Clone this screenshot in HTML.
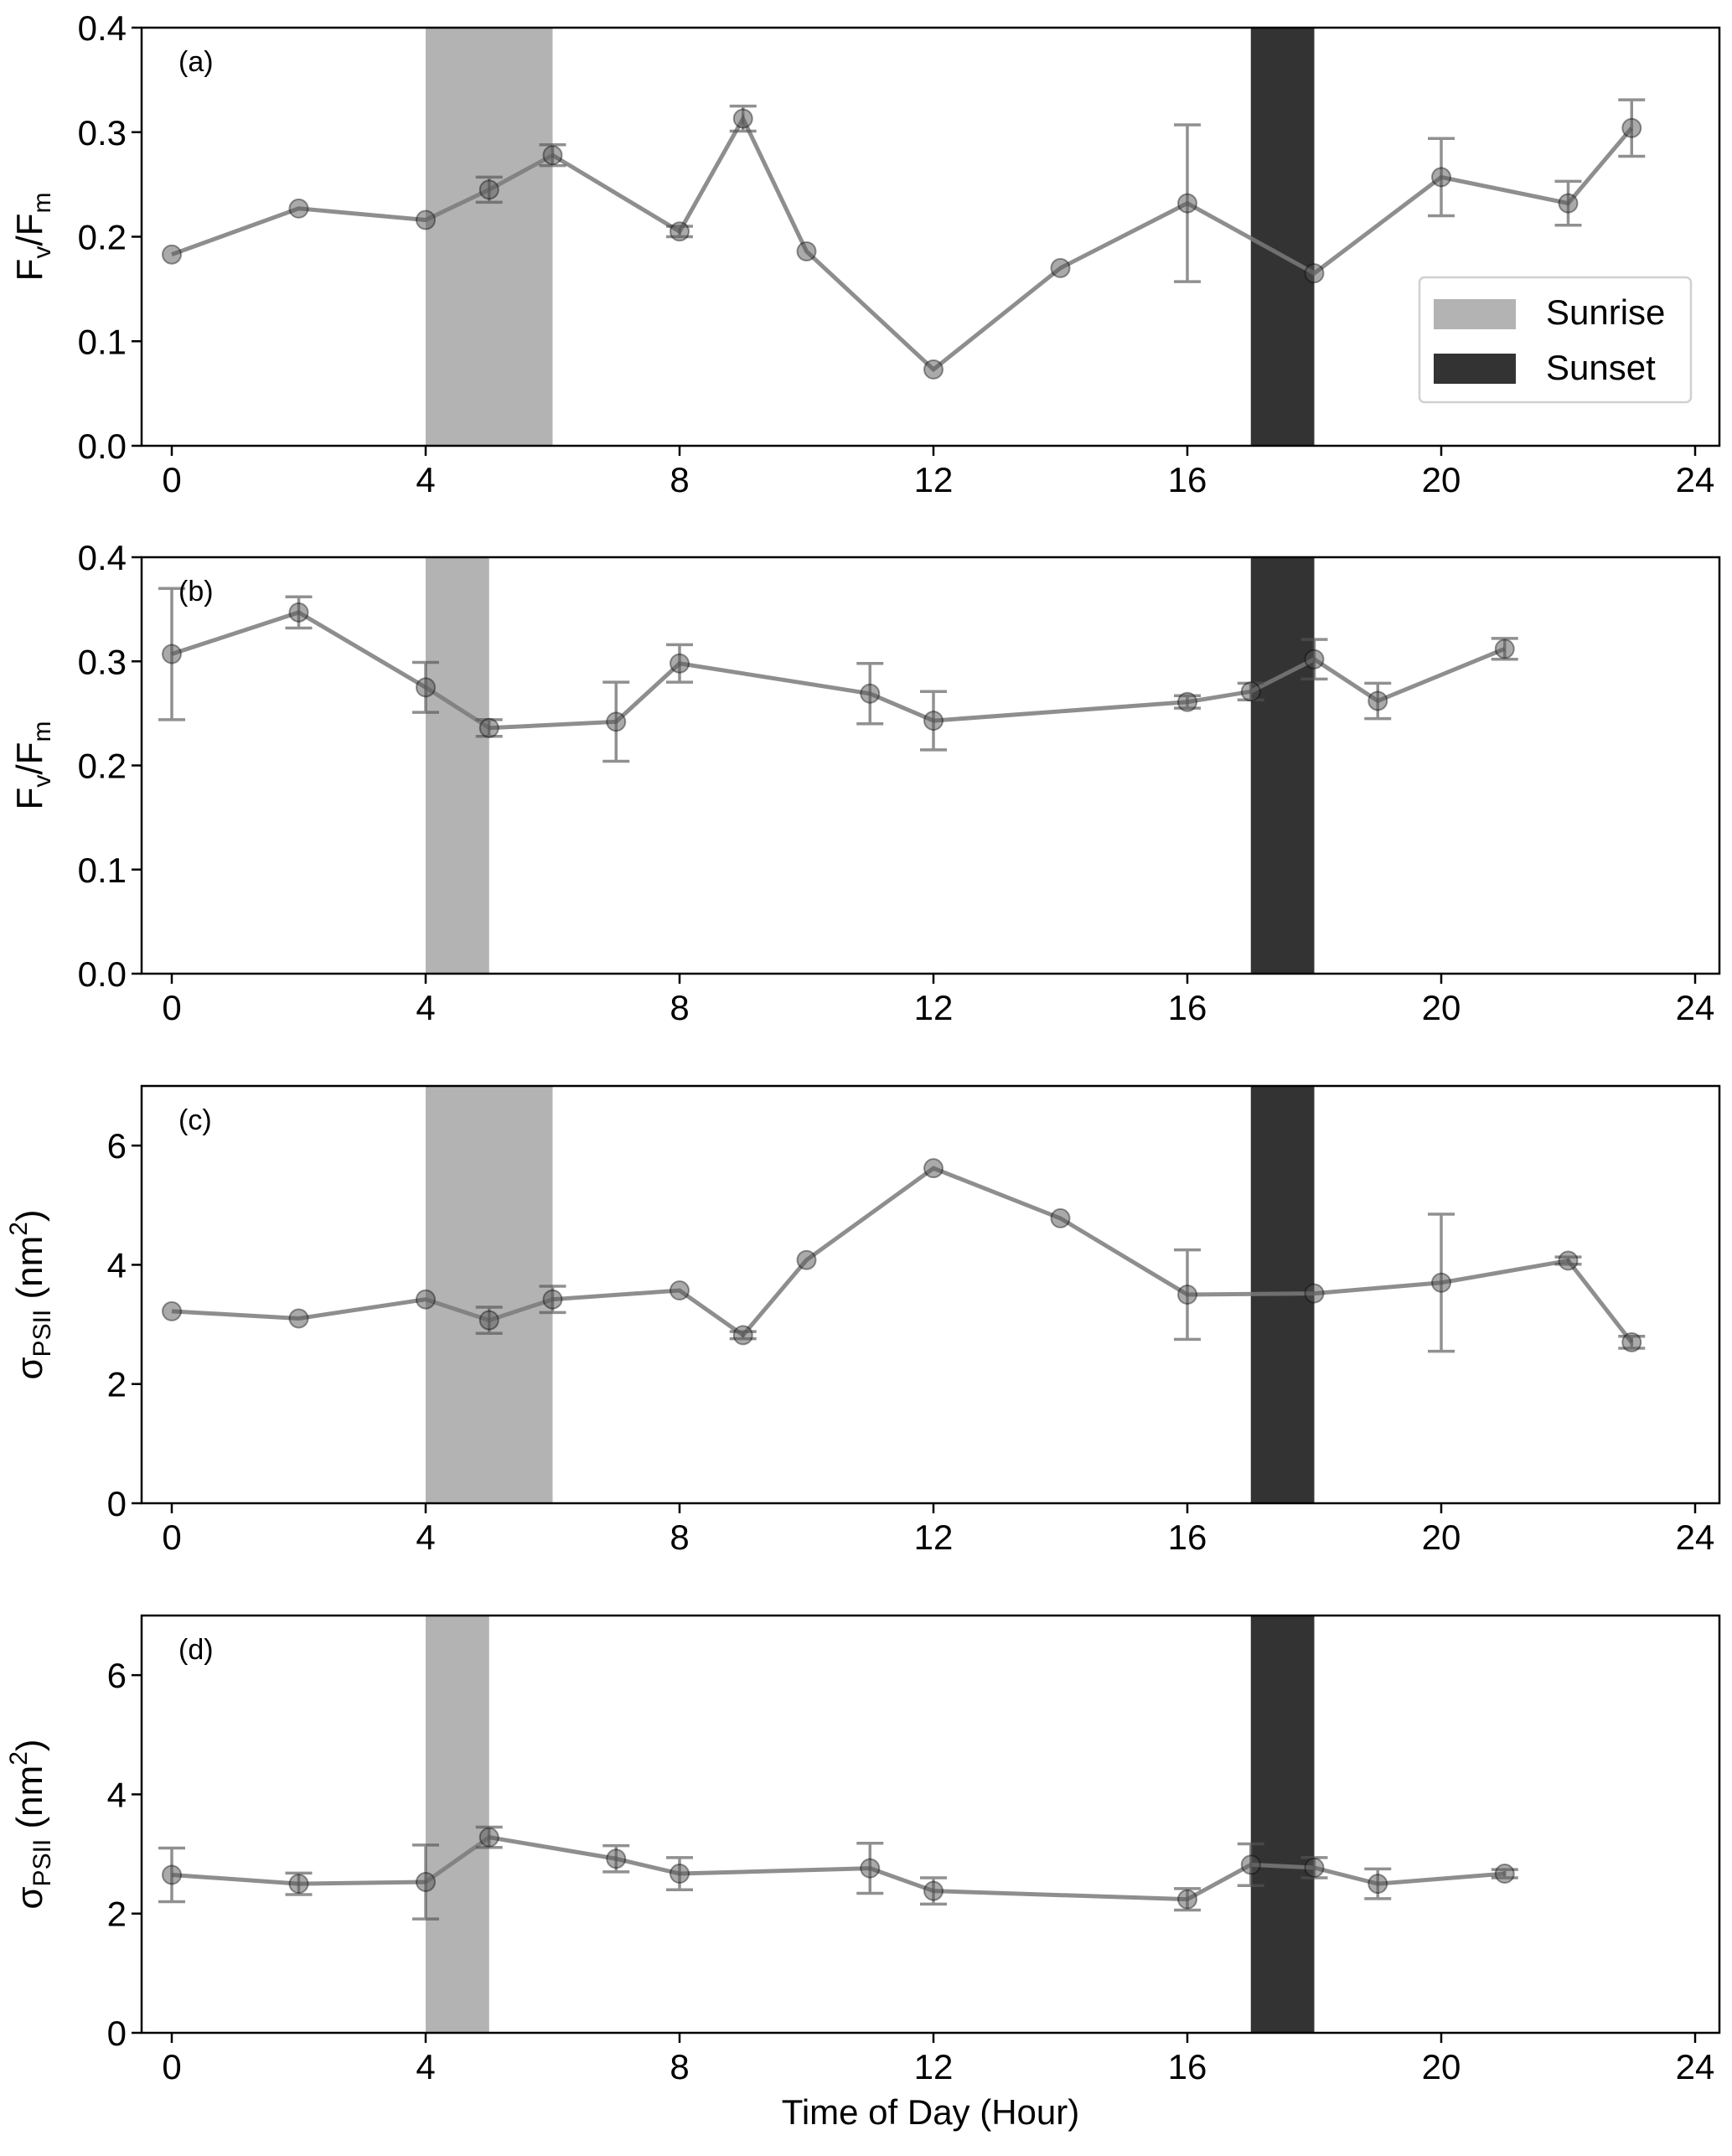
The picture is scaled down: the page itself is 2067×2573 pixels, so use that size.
<!DOCTYPE html>
<html><head><meta charset="utf-8"><style>
body{margin:0;background:#fff}
text{font-family:"Liberation Sans",sans-serif}
</style></head><body>
<svg id="c" width="2067" height="2568" xmlns="http://www.w3.org/2000/svg"></svg>
<script>
const xsA=[0,2,4,5,6,8,9,10,12,14,16,18,20,22,23];
const ysA=[0.183,0.227,0.216,0.245,0.278,0.205,0.313,0.186,0.073,0.170,0.232,0.165,0.257,0.232,0.304];
const errA=[0,0,0,0.012,0.010,0.005,0.012,0,0,0,0.075,0,0.037,0.021,0.027];
const xsB=[0,2,4,5,7,8,11,12,16,17,18,19,21];
const ysB=[0.307,0.347,0.275,0.236,0.242,0.298,0.269,0.243,0.261,0.271,0.302,0.262,0.312];
const errB=[0.063,0.015,0.024,0.008,0.038,0.018,0.029,0.028,0.006,0.008,0.019,0.017,0.010];
const xsC=[0,2,4,5,6,8,9,10,12,14,16,18,20,22,23];
const ysC=[3.22,3.10,3.42,3.07,3.42,3.57,2.82,4.08,5.62,4.78,3.50,3.52,3.70,4.07,2.70];
const errC=[0,0,0,0.22,0.22,0,0.06,0,0,0,0.75,0,1.15,0.06,0.10];
const xsD=[0,2,4,5,7,8,11,12,16,17,18,19,21];
const ysD=[2.65,2.50,2.53,3.28,2.92,2.67,2.76,2.38,2.24,2.82,2.77,2.50,2.67];
const errD=[0.45,0.18,0.62,0.17,0.22,0.27,0.42,0.22,0.18,0.35,0.17,0.25,0.07];
const xTicks=[0,4,8,12,16,20,24];
const yTicksF=[0,0.1,0.2,0.3,0.4];
const yTicksS=[0,2,4,6];
const NS="http://www.w3.org/2000/svg";
const svg=document.getElementById('c');
function mk(t,a,p){const e=document.createElementNS(NS,t);for(const k in a)e.setAttribute(k,a[k]);(p||svg).appendChild(e);return e;}
const L=169,R=2052,X0=205,PH=75.75;
const sx=h=>X0+h*PH;
const panels=[
 {top:33,bot:532,ymax:0.4,ticks:yTicksF,dec:1,xs:xsA,ys:ysA,er:errA,rise:[4,6],set:[17,18],lab:'(a)',ttl:'F',legend:true,name:'panel-a'},
 {top:665,bot:1162,ymax:0.4,ticks:yTicksF,dec:1,xs:xsB,ys:ysB,er:errB,rise:[4,5],set:[17,18],lab:'(b)',ttl:'F',name:'panel-b'},
 {top:1296,bot:1794,ymax:7,ticks:yTicksS,dec:0,xs:xsC,ys:ysC,er:errC,rise:[4,6],set:[17,18],lab:'(c)',ttl:'S',name:'panel-c'},
 {top:1928,bot:2426,ymax:7,ticks:yTicksS,dec:0,xs:xsD,ys:ysD,er:errD,rise:[4,5],set:[17,18],lab:'(d)',ttl:'S',name:'panel-d'}];
panels.forEach(p=>{
 const g=mk('g',{});
 
 
 const sy=v=>p.bot-v/p.ymax*(p.bot-p.top);
 const r1=mk('rect',{x:sx(p.rise[0]),y:p.top,width:sx(p.rise[1])-sx(p.rise[0]),height:p.bot-p.top,fill:'#b3b3b3'},g);
 
 
 const r2=mk('rect',{x:sx(p.set[0]),y:p.top,width:sx(p.set[1])-sx(p.set[0]),height:p.bot-p.top,fill:'#333'},g);
 
 
 const pts=p.xs.map((x,i)=>sx(x)+','+sy(p.ys[i])).join(' ');
 const ln=mk('polyline',{points:pts,fill:'none',stroke:'#7a7a7a','stroke-opacity':0.85,'stroke-width':5},g);
 
 
 p.xs.forEach((x,i)=>{
  const cx=sx(x),cy=sy(p.ys[i]);
  if(p.er[i]>0){
   const y1=sy(p.ys[i]+p.er[i]),y2=sy(p.ys[i]-p.er[i]);
   const eb=mk('path',{d:`M${cx},${y1}V${y2}M${cx-16},${y1}H${cx+16}M${cx-16},${y2}H${cx+16}`,stroke:'#555','stroke-opacity':0.65,'stroke-width':3.5,fill:'none'},g);
   
   
  }
  const c=mk('circle',{cx:cx,cy:cy,r:11,fill:'#555','fill-opacity':0.5,stroke:'#000','stroke-opacity':0.4,'stroke-width':2},g);
  
  
 });
 const fr=mk('rect',{x:L,y:p.top,width:R-L,height:p.bot-p.top,fill:'none',stroke:'#000','stroke-width':2.5},g);
 
 
 xTicks.forEach(t=>{
  mk('line',{x1:sx(t),x2:sx(t),y1:p.bot,y2:p.bot+12,stroke:'#000','stroke-width':2.5},g);
  const tx=mk('text',{x:sx(t),y:p.bot+55,'font-size':42,'text-anchor':'middle'},g);
  tx.textContent=t;
  
  
 });
 p.ticks.forEach(t=>{
  mk('line',{x1:L,x2:L-12,y1:sy(t),y2:sy(t),stroke:'#000','stroke-width':2.5},g);
  const ty=mk('text',{x:L-18,y:sy(t)+15,'font-size':42,'text-anchor':'end'},g);
  ty.textContent=t.toFixed(p.dec);
  
  
 });
 const pl=mk('text',{x:213,y:p.top+52,'font-size':34},g);
 pl.textContent=p.lab;
 
 
 const my=(p.top+p.bot)/2;
 const yt=mk('text',{transform:`translate(50,${my}) rotate(-90)`,'font-size':44,'text-anchor':'middle'},g);
 if(p.ttl==='F'){yt.innerHTML='F<tspan font-size="30" dy="10">v</tspan><tspan dy="-10">/F</tspan><tspan font-size="30" dy="10">m</tspan>';}
 else{yt.innerHTML='σ<tspan font-size="30" dy="10">PSII</tspan><tspan dy="-10"> (nm</tspan><tspan font-size="30" dy="-18">2</tspan><tspan dy="18">)</tspan>';}
 
 
 if(p.legend){
  const lg=mk('g',{},g);
  
  
  mk('rect',{x:1694,y:331,width:324,height:149,rx:6,fill:'#fff','fill-opacity':0.9,stroke:'#d0d0d0','stroke-width':2.5},lg);
  mk('rect',{x:1711,y:357,width:98,height:36,fill:'#b3b3b3'},lg);
  mk('rect',{x:1711,y:422,width:98,height:36,fill:'#333'},lg);
  const t1=mk('text',{x:1845,y:387,'font-size':42},lg);t1.textContent='Sunrise';
  
  
  const t2=mk('text',{x:1845,y:453,'font-size':42},lg);t2.textContent='Sunset';
  
  
 }
});
const xl=mk('text',{x:(L+R)/2,y:2535,'font-size':42,'text-anchor':'middle'});
xl.textContent='Time of Day (Hour)';


</script>
</body></html>
